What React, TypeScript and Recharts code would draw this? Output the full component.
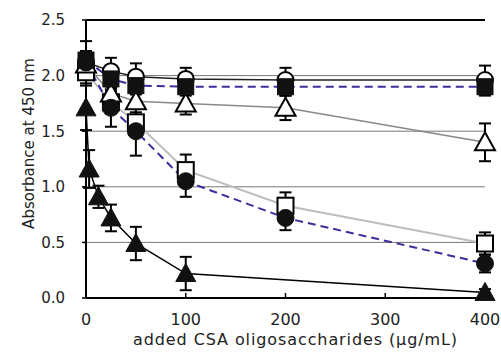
import { ScatterChart, Scatter, XAxis, YAxis, CartesianGrid, ErrorBar, ReferenceLine, Label } from 'recharts';

const X_TICKS = [0, 100, 200, 300, 400];
const Y_TICKS = [0, 0.5, 1, 1.5, 2, 2.5];

// open circles
const openCircleX = [0, 25, 50, 100, 200, 400];
const openCircleY = [2.12, 2.04, 1.99, 1.97, 1.96, 1.96];
const openCircleErr = [0.1, 0.12, 0.12, 0.1, 0.11, 0.13];

// filled squares
const blockX = [0, 25, 50, 100, 200, 400];
const blockY = [2.14, 1.97, 1.91, 1.9, 1.9, 1.9];
const blockErr = [0.17, 0.08, 0.08, 0.08, 0.08, 0.08];

// open triangles
const openTriX = [0, 25, 50, 100, 200, 400];
const openTriY = [2.1, 1.84, 1.77, 1.75, 1.71, 1.4];
const openTriErr = [0.1, 0.08, 0.1, 0.1, 0.11, 0.17];

// open squares
const openSqX = [0, 25, 50, 100, 200, 400];
const openSqY = [2.03, 1.76, 1.58, 1.15, 0.83, 0.49];
const openSqErr = [0.1, 0.1, 0.12, 0.14, 0.12, 0.1];

// filled circles
const dotX = [0, 25, 50, 100, 200, 400];
const dotY = [2.12, 1.71, 1.5, 1.05, 0.72, 0.31];
const dotErr = [0.1, 0.17, 0.22, 0.14, 0.11, 0.08];

// filled triangles
const solidTriX = [0, 3.125, 12.5, 25, 50, 100, 400];
const solidTriY = [1.71, 1.16, 0.91, 0.72, 0.49, 0.22, 0.05];
const solidTriErr = [0.2, 0.17, 0.1, 0.12, 0.15, 0.15, 0.03];

const toPoints = (xs: number[], ys: number[], errs: number[]) =>
    xs.map((x, i) => ({ x, y: ys[i], err: errs[i] }));

const FONT = 'DejaVu Sans';

type Kind = 'circle' | 'dot' | 'square' | 'block' | 'tri' | 'solidTri';

function Marker({ cx, cy, kind }: { cx: number; cy: number; kind: Kind }) {
    const s = { stroke: '#000', strokeWidth: 2 };
    switch (kind) {
        case 'circle':
            return <circle cx={cx} cy={cy} r={8} fill="#fff" {...s} />;
        case 'dot':
            return <circle cx={cx} cy={cy} r={8.5} fill="#111" stroke="#111" />;
        case 'square':
            return <rect x={cx - 8} y={cy - 8} width={16} height={16} fill="#fff" {...s} />;
        case 'block':
            return <rect x={cx - 8} y={cy - 8} width={16} height={16} fill="#111" stroke="#111" />;
        case 'tri':
            return <polygon points={`${cx},${cy - 10} ${cx + 10},${cy + 8} ${cx - 10},${cy + 8}`} fill="#fff" {...s} />;
        default:
            return <polygon points={`${cx},${cy - 10} ${cx + 10},${cy + 8} ${cx - 10},${cy + 8}`} fill="#111" stroke="#111" />;
    }
}

const series = [
    { name: 'openSq', data: toPoints(openSqX, openSqY, openSqErr), kind: 'square' as Kind, line: { stroke: '#bdbdbd', strokeWidth: 2 } },
    { name: 'solidTri', data: toPoints(solidTriX, solidTriY, solidTriErr), kind: 'solidTri' as Kind, line: { stroke: '#000', strokeWidth: 1.5 } },
    { name: 'openTri', data: toPoints(openTriX, openTriY, openTriErr), kind: 'tri' as Kind, line: { stroke: '#888', strokeWidth: 1.5 } },
    { name: 'openCircle', data: toPoints(openCircleX, openCircleY, openCircleErr), kind: 'circle' as Kind, line: { stroke: '#222', strokeWidth: 1.5 } },
    { name: 'block', data: toPoints(blockX, blockY, blockErr), kind: 'block' as Kind, line: { stroke: '#3b2f9c', strokeWidth: 2, strokeDasharray: '8 5' } },
    { name: 'dot', data: toPoints(dotX, dotY, dotErr), kind: 'dot' as Kind, line: { stroke: '#3b2f9c', strokeWidth: 2, strokeDasharray: '8 5' } },
];

const XTitle = ({ viewBox }: any) => (
    <text x={viewBox.x + viewBox.width / 2 + 10} y={viewBox.y + 47} textAnchor="middle"
        fontFamily={FONT} fontSize={16} letterSpacing={0.9} fill="#222">
        added CSA oligosaccharides (μg/mL)
    </text>
);

const YTitle = ({ viewBox }: any) => {
    const cx = 28.5;
    const cy = viewBox.y + viewBox.height / 2 - 15.5;
    return (
        <text x={cx} y={cy} transform={`rotate(-90 ${cx} ${cy})`} textAnchor="middle" dominantBaseline="central"
            fontFamily={FONT} fontSize={15} fill="#222">
            Absorbance at 450 nm
        </text>
    );
};

export default function App() {
    return (
        <div style={{ position: 'absolute', left: 0, top: 0, background: '#fff' }}>
            <ScatterChart width={501} height={358} margin={{ top: 20, right: 16, bottom: 0, left: 0 }}>
                <CartesianGrid vertical={false} stroke="#777" strokeWidth={1} />
                <XAxis
                    type="number"
                    dataKey="x"
                    domain={[0, 400]}
                    ticks={X_TICKS}
                    interval={0}
                    height={60}
                    tickSize={-5}
                    tickMargin={21}
                    axisLine={{ stroke: '#000', strokeWidth: 2 }}
                    tickLine={{ stroke: '#000', strokeWidth: 1.5 }}
                    tick={{ fill: '#222', fontSize: 16, fontFamily: FONT }}
                >
                    <Label content={XTitle} />
                </XAxis>
                <YAxis
                    type="number"
                    dataKey="y"
                    domain={[0, 2.5]}
                    ticks={Y_TICKS}
                    interval={0}
                    width={86}
                    tickSize={4}
                    tickMargin={17}
                    tickFormatter={(v: number) => v.toFixed(1)}
                    axisLine={{ stroke: '#000', strokeWidth: 2 }}
                    tickLine={{ stroke: '#000', strokeWidth: 1.5 }}
                    tick={{ fill: '#222', fontSize: 15, fontFamily: FONT }}
                >
                    <Label content={YTitle} />
                </YAxis>
                <ReferenceLine y={2.5} stroke="#000" strokeWidth={2} />

                {series.map((s) => (
                    <Scatter
                        key={s.name + '-line'}
                        data={s.data}
                        line={s.line}
                        shape={() => <g />}
                        isAnimationActive={false}
                    />
                ))}

                {series.map((s) => (
                    <Scatter
                        key={s.name}
                        data={s.data}
                        shape={(p: any) => <Marker cx={p.cx} cy={p.cy} kind={s.kind} />}
                        isAnimationActive={false}
                    >
                        <ErrorBar dataKey="err" direction="y" width={6} stroke="#000" strokeWidth={2} />
                    </Scatter>
                ))}
            </ScatterChart>
        </div>
    );
}
